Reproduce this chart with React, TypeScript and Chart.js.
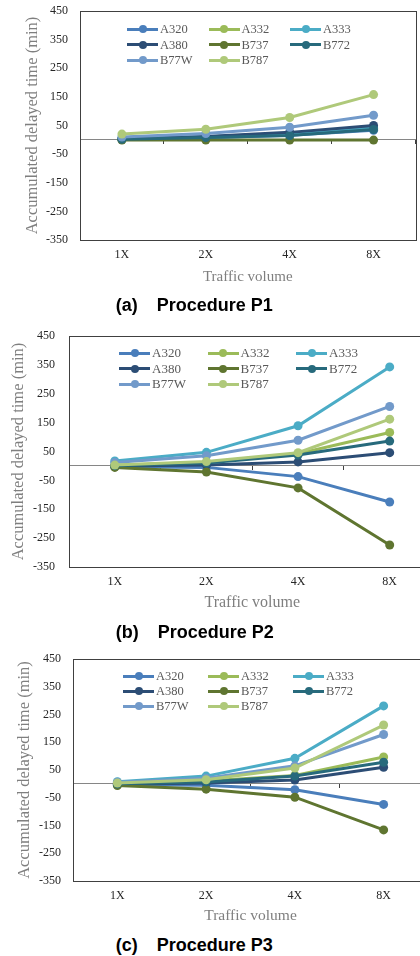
import React, { useEffect, useRef } from "react";
import { Chart, registerables } from "chart.js";

Chart.register(...registerables);

// ---------- DATA ----------
const trafficLabels = ["1X", "2X", "4X", "8X"];
const aircraftTypes = ["A320", "A332", "A333", "A380", "B737", "B772", "B77W", "B787"];
const yAxisMin = -350;
const yAxisMax = 450;
const yAxisStep = 100;

// Procedure P1
const p1A320 = [2, 7, 16, 33];
const p1A332 = [3, 9, 20, 40];
const p1A333 = [4, 11, 22, 42];
const p1A380 = [3, 12, 26, 50];
const p1B737 = [-1, -1, -1, -1];
const p1B772 = [2, 8, 15, 36];
const p1B77W = [10, 22, 44, 86];
const p1B787 = [20, 37, 78, 158];

// Procedure P2
const p2A320 = [-3, -5, -37, -125];
const p2A332 = [2, 13, 42, 116];
const p2A333 = [17, 47, 139, 343];
const p2A380 = [0, 3, 14, 46];
const p2B737 = [-5, -21, -76, -274];
const p2B772 = [1, 10, 38, 86];
const p2B77W = [12, 35, 89, 206];
const p2B787 = [3, 15, 46, 162];

// Procedure P3
const p3A320 = [-3, -5, -21, -74];
const p3A332 = [0, 10, 30, 97];
const p3A333 = [8, 28, 92, 281];
const p3A380 = [-1, 3, 14, 60];
const p3B737 = [-6, -19, -48, -166];
const p3B772 = [0, 7, 28, 78];
const p3B77W = [6, 20, 65, 178];
const p3B787 = [3, 15, 57, 212];

const p1Series = [p1A320, p1A332, p1A333, p1A380, p1B737, p1B772, p1B77W, p1B787];
const p2Series = [p2A320, p2A332, p2A333, p2A380, p2B737, p2B772, p2B77W, p2B787];
const p3Series = [p3A320, p3A332, p3A333, p3A380, p3B737, p3B772, p3B77W, p3B787];

const captionLetters = ["(a)", "(b)", "(c)"];
const captionTitles = ["Procedure P1", "Procedure P2", "Procedure P3"];
const yTitleText = "Accumulated delayed time (min)";
const xTitleText = "Traffic volume";

// ---------- STYLE ----------
const aircraftColors = [
  "#4A7EBB",
  "#9BBB59",
  "#4BACC6",
  "#2C4D75",
  "#5F7530",
  "#276A7C",
  "#729ACA",
  "#AFC97A",
];

const SERIF = "'Liberation Serif', 'Times New Roman', serif";
const SANS = "'Liberation Sans', Arial, sans-serif";

type PanelLayout = {
  top: number;
  canvasW: number;
  canvasH: number;
  areaLeft: number;
  areaRight: number;
  areaTop: number;
  areaBottom: number;
  yLabelGap: number;
  yTitleCenterX: number;
  yTitleSize: number;
  xTitleFromBottom: number;
  xTitleSize: number;
  legendLeft: number;
  legendTop: number;
  legendColW: number;
  legendRowH: number;
  legendFont: number;
  captionCenterY: number;
};

const layouts: PanelLayout[] = [
  {
    top: 0, canvasW: 420, canvasH: 290,
    areaLeft: 80, areaRight: 418, areaTop: 11, areaBottom: 240,
    yLabelGap: 12, yTitleCenterX: 33, yTitleSize: 16.5,
    xTitleFromBottom: 13.3, xTitleSize: 15,
    legendLeft: 127, legendTop: 29, legendColW: 81.5, legendRowH: 15.5, legendFont: 12.5,
    captionCenterY: 305,
  },
  {
    top: 320, canvasW: 440, canvasH: 292,
    areaLeft: 69, areaRight: 437, areaTop: 16, areaBottom: 247,
    yLabelGap: 14, yTitleCenterX: 19, yTitleSize: 16.5,
    xTitleFromBottom: 9.3, xTitleSize: 16,
    legendLeft: 119, legendTop: 353.3, legendColW: 88.5, legendRowH: 15.5, legendFont: 13,
    captionCenterY: 631.7,
  },
  {
    top: 636, canvasW: 440, canvasH: 290,
    areaLeft: 73, areaRight: 428, areaTop: 23, areaBottom: 245,
    yLabelGap: 12, yTitleCenterX: 25, yTitleSize: 16.5,
    xTitleFromBottom: 10, xTitleSize: 15.5,
    legendLeft: 123, legendTop: 676, legendColW: 85, legendRowH: 15.2, legendFont: 12.5,
    captionCenterY: 945.3,
  },
];

const framePlugin = {
  id: "plotFrame",
  beforeDatasetsDraw(chart: any) {
    const { ctx, chartArea } = chart;
    ctx.save();
    ctx.strokeStyle = "#404040";
    ctx.lineWidth = 1;
    ctx.strokeRect(
      Math.round(chartArea.left) + 0.5,
      Math.round(chartArea.top) + 0.5,
      Math.round(chartArea.right - chartArea.left),
      Math.round(chartArea.bottom - chartArea.top)
    );
    ctx.restore();
  },
};

function Panel({ layout, series }: { layout: PanelLayout; series: number[][] }) {
  const canvasRef = useRef<HTMLCanvasElement | null>(null);

  useEffect(() => {
    if (!canvasRef.current) return;
    const L = layout;
    const n = aircraftTypes.length;
    const chart = new Chart(canvasRef.current, {
      type: "line",
      data: {
        labels: trafficLabels,
        datasets: aircraftTypes.map((name, i) => ({
          label: name,
          data: series[i],
          borderColor: aircraftColors[i],
          backgroundColor: aircraftColors[i],
          pointBackgroundColor: aircraftColors[i],
          pointBorderColor: aircraftColors[i],
          pointBorderWidth: 0,
          pointRadius: 4.5,
          borderWidth: 3,
          tension: 0,
          fill: false,
          order: n - i,
        })),
      },
      options: {
        animation: false,
        responsive: false,
        maintainAspectRatio: false,
        events: [],
        layout: {
          padding: { left: 0, top: L.areaTop, right: L.canvasW - L.areaRight, bottom: 0 },
        },
        plugins: {
          legend: { display: false },
          tooltip: { enabled: false },
          title: { display: false },
        },
        scales: {
          x: {
            type: "category",
            offset: true,
            grid: { display: false, drawTicks: false },
            border: { display: false },
            ticks: {
              font: { family: SERIF, size: 12, lineHeight: 1.2 },
              color: "#262626",
              padding: 8,
              maxRotation: 0,
              autoSkip: false,
            },
            title: {
              display: true,
              text: xTitleText,
              color: "#7f7f7f",
              font: { family: SERIF, size: L.xTitleSize, lineHeight: 1.2 },
              padding: { top: 0, bottom: L.xTitleFromBottom - L.xTitleSize * 0.6 },
            },
            afterFit: (s: any) => {
              s.height = L.canvasH - L.areaBottom;
              s.paddingLeft = 0;
              s.paddingRight = 0;
            },
          },
          x2: {
            type: "category",
            axis: "x",
            position: { y: 0 },
            offset: true,
            grid: {
              display: true,
              offset: true,
              drawOnChartArea: false,
              drawTicks: true,
              tickLength: 4,
              color: "#404040",
              lineWidth: 1,
            },
            border: { display: true, color: "#868686", width: 1 },
            ticks: { display: false },
          },
          y: {
            type: "linear",
            min: yAxisMin,
            max: yAxisMax,
            ticks: {
              stepSize: yAxisStep,
              font: { family: SERIF, size: 12, lineHeight: 1.2 },
              color: "#262626",
              padding: L.yLabelGap,
            },
            grid: { display: false, drawTicks: false },
            border: { display: false },
            title: {
              display: true,
              text: yTitleText,
              color: "#7f7f7f",
              font: { family: SERIF, size: L.yTitleSize, lineHeight: 1.2 },
              padding: { top: L.yTitleCenterX - L.yTitleSize * 0.6, bottom: 0 },
            },
            afterFit: (s: any) => {
              s.width = L.areaLeft;
              s.paddingTop = 7;
              s.paddingBottom = 7;
            },
          },
        },
      } as any,
      plugins: [framePlugin],
    });
    return () => chart.destroy();
  }, [layout, series]);

  const L = layout;
  return (
    <>
      <canvas
        ref={canvasRef}
        width={L.canvasW}
        height={L.canvasH}
        style={{
          position: "absolute",
          left: 0,
          top: L.top,
          width: L.canvasW,
          height: L.canvasH,
          display: "block",
        }}
      />
      {aircraftTypes.map((name, i) => {
        const col = i % 3;
        const row = Math.floor(i / 3);
        const cy = L.legendTop + row * L.legendRowH;
        return (
          <div
            key={name}
            style={{
              position: "absolute",
              left: L.legendLeft + col * L.legendColW,
              top: cy - 8,
              height: 16,
              display: "flex",
              alignItems: "center",
              whiteSpace: "nowrap",
            }}
          >
            <div
              style={{
                position: "relative",
                width: 31,
                height: 3,
                background: aircraftColors[i],
              }}
            >
              <div
                style={{
                  position: "absolute",
                  left: 11.5,
                  top: -2.5,
                  width: 8,
                  height: 8,
                  borderRadius: "50%",
                  background: aircraftColors[i],
                }}
              />
            </div>
            <span
              style={{
                marginLeft: 2,
                fontFamily: SERIF,
                fontSize: L.legendFont,
                lineHeight: "16px",
                color: "#595959",
              }}
            >
              {name}
            </span>
          </div>
        );
      })}
    </>
  );
}

function Caption({ layout, index }: { layout: PanelLayout; index: number }) {
  return (
    <div
      style={{
        position: "absolute",
        left: 115.7,
        top: layout.captionCenterY - 11,
        height: 22,
        lineHeight: "22px",
        fontFamily: SANS,
        fontWeight: "bold",
        fontSize: 18,
        color: "#000",
        whiteSpace: "nowrap",
      }}
    >
      <span>{captionLetters[index]}</span>
      <span style={{ marginLeft: 19 }}>{captionTitles[index]}</span>
    </div>
  );
}

export default function App() {
  const allSeries = [p1Series, p2Series, p3Series];
  return (
    <div
      style={{
        position: "absolute",
        left: 0,
        top: 0,
        width: 420,
        height: 956,
        overflow: "hidden",
        background: "#fff",
      }}
    >
      {layouts.map((L, i) => (
        <Panel key={"p" + i} layout={L} series={allSeries[i]} />
      ))}
      {layouts.map((L, i) => (
        <Caption key={"c" + i} layout={L} index={i} />
      ))}
    </div>
  );
}
